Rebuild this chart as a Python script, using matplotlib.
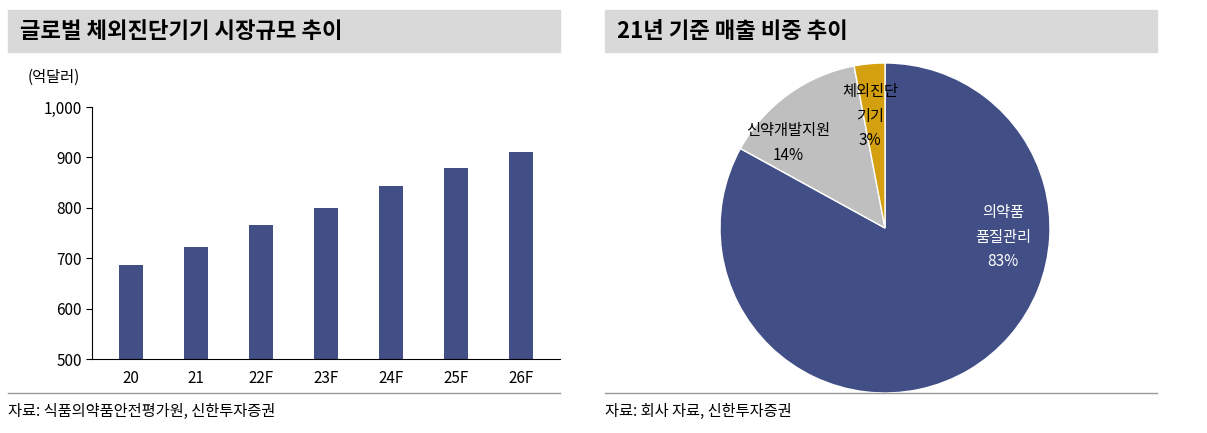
import matplotlib
matplotlib.use("Agg")
import matplotlib.pyplot as plt
from matplotlib.patches import Rectangle
from matplotlib.lines import Line2D

plt.rcParams['font.family'] = ['Noto Sans CJK KR', 'Noto Sans CJK JP', 'Noto Sans CJK SC', 'DejaVu Sans']

years = ["20", "21", "22F", "23F", "24F", "25F", "26F"]
market = [686, 722, 765, 800, 843, 878, 910]
pie_labels = ["의약품\n품질관리\n83%", "신약개발지원\n14%", "체외진단\n기기\n3%"]
pie_values = [83, 14, 3]

W, H = 1207, 433
fig = plt.figure(figsize=(W/100, H/100), dpi=100)
BLUE = "#414f86"

def fx(x): return x / W
def fy(y): return 1 - y / H

for x0, x1, t in [(8, 560, "글로벌 체외진단기기 시장규모 추이"), (605, 1157, "21년 기준 매출 비중 추이")]:
    fig.patches.append(Rectangle((fx(x0), fy(52)), fx(x1 - x0), (52 - 10) / H,
                                 transform=fig.transFigure, color="#d9d9d9", zorder=0))
    fig.text(fx(x0 + 12), fy(31), t, fontsize=16, fontweight="bold", va="center")
    fig.lines.append(Line2D([fx(x0), fx(x1)], [fy(393), fy(393)], transform=fig.transFigure,
                            color="#999999", lw=1))

fig.text(fx(8), fy(411), "자료: 식품의약품안전평가원, 신한투자증권", fontsize=11, va="center")
fig.text(fx(605), fy(411), "자료: 회사 자료, 신한투자증권", fontsize=11, va="center")

ax = fig.add_axes([fx(92), fy(359), fx(560 - 92), (359 - 107) / H])
ax.bar(range(len(years)), market, width=0.38, color=BLUE)
ax.set_ylim(500, 1000)
ax.set_xlim(-0.6, len(years) - 0.4)
ax.set_yticks(range(500, 1001, 100))
ax.set_yticklabels(["500", "600", "700", "800", "900", "1,000"], fontsize=11)
ax.set_xticks(range(len(years)))
ax.set_xticklabels(years, fontsize=11)
for s in ["top", "right"]:
    ax.spines[s].set_visible(False)
ax.tick_params(axis="x", length=0, pad=8)
ax.tick_params(axis="y", direction="out", length=4)
fig.text(fx(28), fy(77), "(억달러)", fontsize=11, va="center")

R = 165
pax = fig.add_axes([fx(885 - R), fy(228 + R), fx(2 * R), 2 * R / H])
pax.pie(pie_values, colors=[BLUE, "#bfbfbf", "#d4a00f"], startangle=90, counterclock=False,
        wedgeprops=dict(edgecolor="white", linewidth=1))
pax.set_xlim(-1, 1)
pax.set_ylim(-1, 1)
pax.set_aspect("equal")
fig.text(fx(1003), fy(237), pie_labels[0], fontsize=11, color="white", ha="center", va="center",
         linespacing=1.6)
fig.text(fx(788), fy(143), pie_labels[1], fontsize=11, ha="center", va="center", linespacing=1.6)
fig.text(fx(870), fy(116), pie_labels[2], fontsize=11, ha="center", va="center", linespacing=1.6)

fig.savefig("out.png", dpi=100)
